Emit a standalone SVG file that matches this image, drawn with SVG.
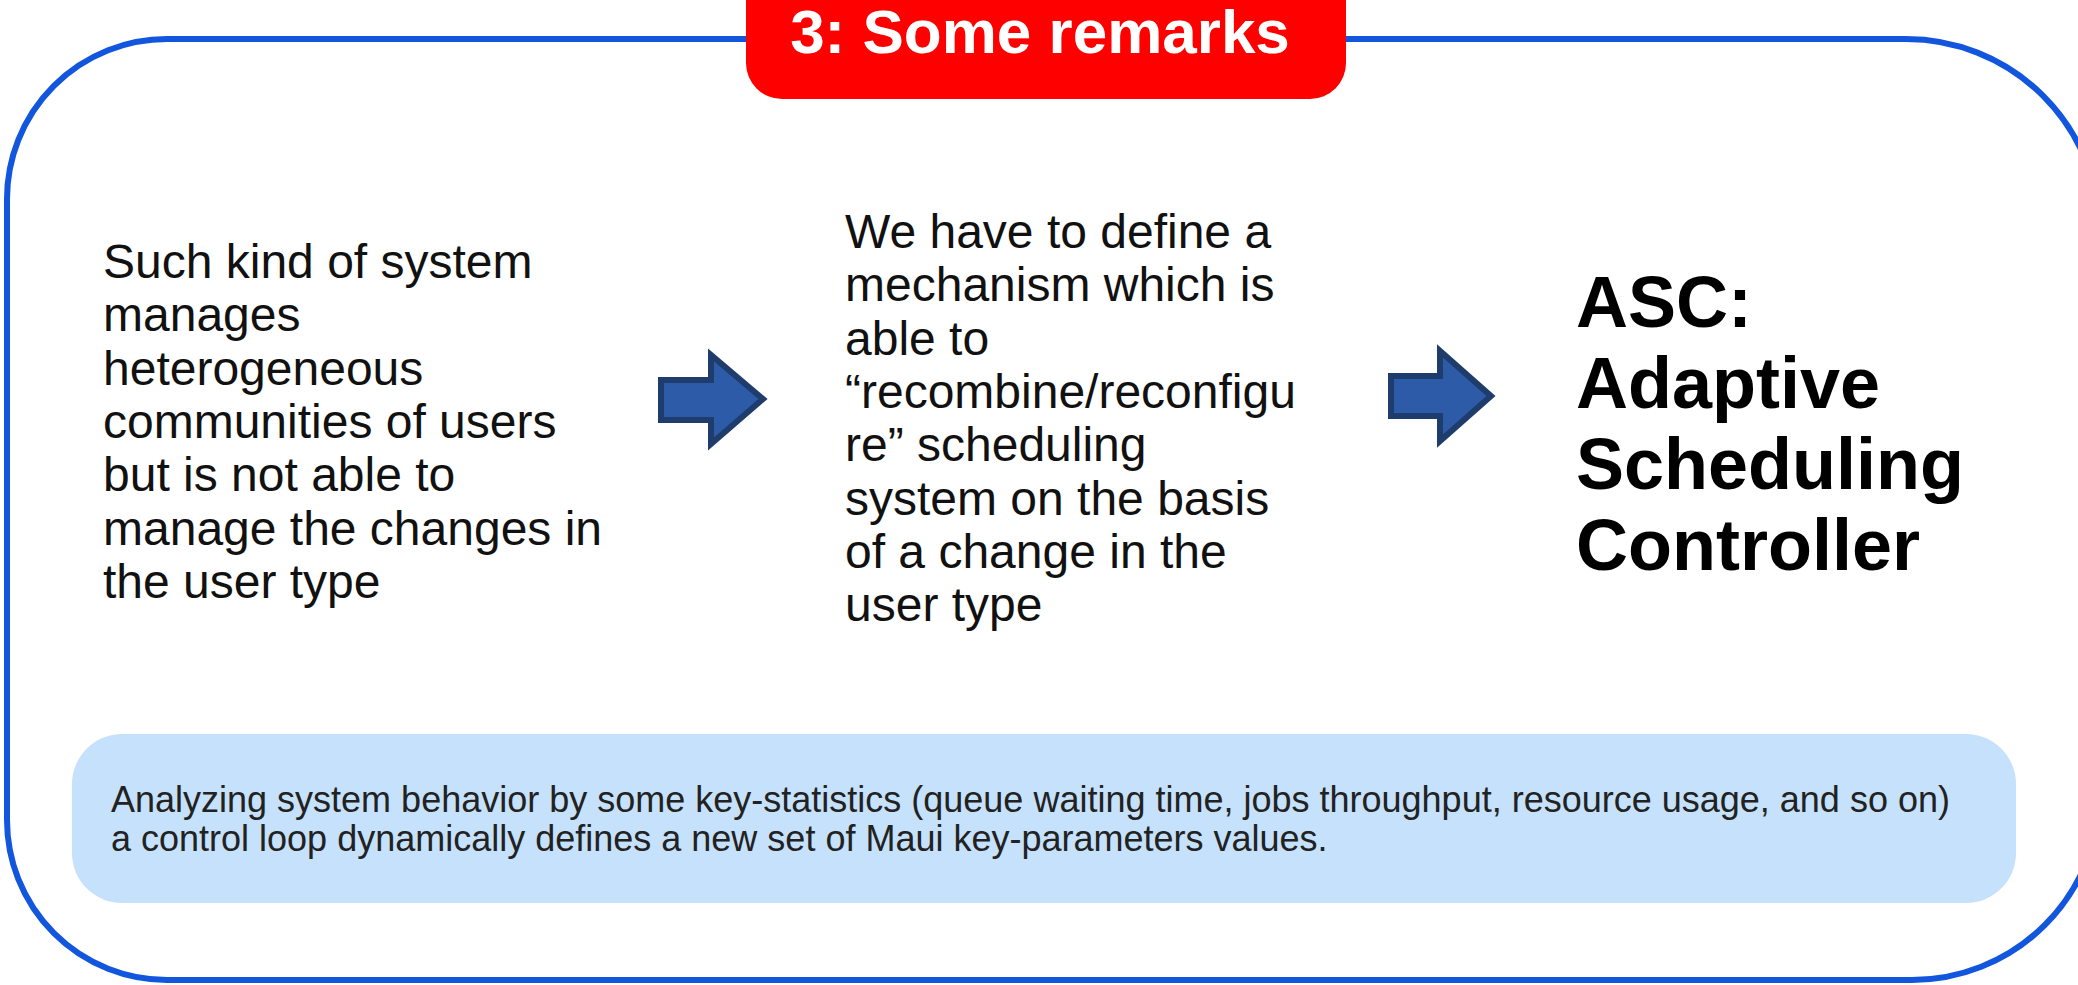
<svg xmlns="http://www.w3.org/2000/svg" width="2078" height="985" viewBox="0 0 2078 985">
<style>
.body{font-family:"Liberation Sans",Arial,sans-serif;font-size:48px;fill:#111}
.big{font-family:"Liberation Sans",Arial,sans-serif;font-size:72px;font-weight:bold;fill:#000}
.title{font-family:"Liberation Sans",Arial,sans-serif;font-size:62px;font-weight:bold;fill:#fff}
.note{font-family:"Liberation Sans",Arial,sans-serif;font-size:36px;fill:#222}
.arrow{fill:#2D5BA8;stroke:#1E3C6C;stroke-width:6;stroke-linejoin:miter}
</style>
<rect x="0" y="0" width="2078" height="985" fill="#fff"/>
<g id="frame">
<path d="M167,39 H1906 A194,194 0 0 1 2100,233 V792 A188,188 0 0 1 1912,980 H167 A160,160 0 0 1 7,820 V199 A160,160 0 0 1 167,39 Z" fill="none" stroke="#1256DD" stroke-width="6"/>
</g>
<g id="title">
<rect x="746" y="-40" width="600" height="139" rx="36" ry="36" fill="#FF0000"/>
<text class="title" x="1040" y="53" text-anchor="middle">3: Some remarks</text>
</g>
<g id="left-text">
<text class="body" x="103" y="278">Such kind of system</text>
<text class="body" x="103" y="331">manages</text>
<text class="body" x="103" y="385">heterogeneous</text>
<text class="body" x="103" y="438">communities of users</text>
<text class="body" x="103" y="491">but is not able to</text>
<text class="body" x="103" y="545">manage the changes in</text>
<text class="body" x="103" y="598">the user type</text>
</g>
<g id="middle-text">
<text class="body" x="845" y="248">We have to define a</text>
<text class="body" x="845" y="301">mechanism which is</text>
<text class="body" x="845" y="355">able to</text>
<text class="body" x="845" y="408">“recombine/reconfigu</text>
<text class="body" x="845" y="461">re” scheduling</text>
<text class="body" x="845" y="515">system on the basis</text>
<text class="body" x="845" y="568">of a change in the</text>
<text class="body" x="845" y="621">user type</text>
</g>
<g id="asc">
<text class="big" x="1576" y="327">ASC:</text>
<text class="big" x="1576" y="408">Adaptive</text>
<text class="big" x="1576" y="489">Scheduling</text>
<text class="big" x="1576" y="570">Controller</text>
</g>
<g id="connectors">
<path class="arrow" d="M661,380 L711,380 L711,355 L763,399 L711,444 L711,420 L661,420 Z"/>
<path class="arrow" d="M1391,376 L1440,376 L1440,351 L1491,396 L1440,441 L1440,416 L1391,416 Z"/>
</g>
<g id="note">
<rect x="72" y="734" width="1944" height="169" rx="50" ry="50" fill="#C5E1FB"/>
<text class="note" x="111" y="812">Analyzing system behavior by some key-statistics (queue waiting time, jobs throughput, resource usage, and so on)</text>
<text class="note" x="111" y="851">a control loop dynamically defines a new set of Maui key-parameters values.</text>
</g>
</svg>
